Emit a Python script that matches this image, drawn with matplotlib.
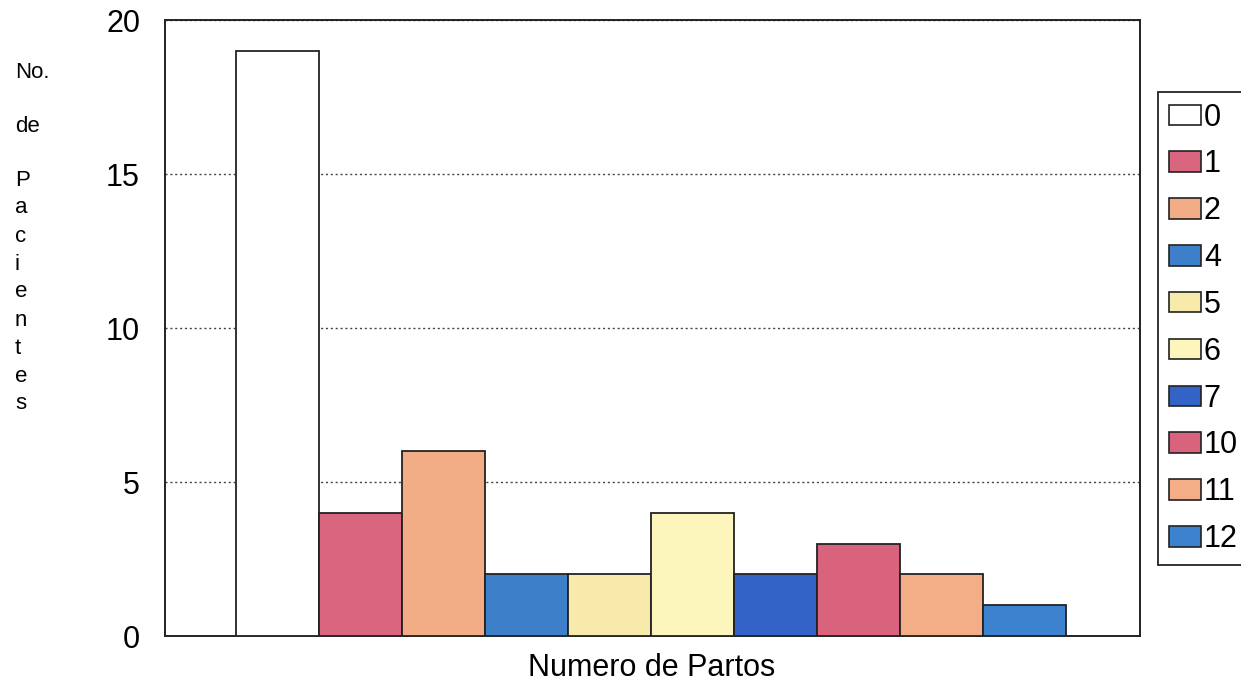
import numpy as np
import matplotlib.pyplot as plt
from matplotlib.patches import Patch

plt.rcParams['font.family'] = ['Liberation Sans', 'DejaVu Sans']

# Numero de partos y numero de pacientes
partos = ['0', '1', '2', '4', '5', '6', '7', '10', '11', '12']
pacientes = [19, 4, 6, 2, 2, 4, 2, 3, 2, 1]
colores = ['#ffffff', '#d9657e', '#f2ac86', '#3d7fc9', '#f8eaab',
           '#fcf6bc', '#3363c6', '#d9627d', '#f3ad87', '#3c82cf']

W, H = 1241, 689
fig = plt.figure(figsize=(W / 100, H / 100), dpi=100)
ax = fig.add_axes([165 / W, 1 - 636 / H, 975 / W, 616 / H])

x = np.arange(len(partos))
ax.bar(x, pacientes, width=1.0, color=colores, edgecolor='#222222',
       linewidth=1.3, zorder=3)

ax.set_ylim(0, 20)
ax.set_xlim(-1.36, 10.39)
ax.set_yticks([0, 5, 10, 15, 20])
ax.set_xticks([])
ax.tick_params(axis='y', length=0, labelsize=22, pad=18)
ax.yaxis.grid(True, linestyle=(0, (1.5, 2)), color='#444444', linewidth=1.0, zorder=0)
for s in ax.spines.values():
    s.set_linewidth(1.4)
    s.set_color('#222222')

fig.text(652 / W, 1 - 668 / H, 'Numero de Partos', fontsize=22,
         ha='center', va='center')

# etiqueta vertical del eje y, letra por letra
fig.text(15 / W, 1 - 72 / H, 'No.', fontsize=16, va='center', ha='left')
fig.text(15 / W, 1 - 127 / H, 'de', fontsize=16, va='center', ha='left')
for i, c in enumerate('Pacientes'):
    fig.text(15 / W, 1 - (180 + i * 28) / H, c, fontsize=16,
             va='center', ha='left')

handles = [Patch(facecolor=c, edgecolor='#222222', linewidth=1.2) for c in colores]
leg = fig.legend(handles, partos, loc='upper left',
                 bbox_to_anchor=(1158 / W, 1 - 92 / H),
                 fontsize=22, frameon=True, fancybox=False, framealpha=1,
                 handlelength=1.05, handleheight=0.66, handletextpad=0.1,
                 labelspacing=0.55, borderpad=0.35, borderaxespad=0)
leg.get_frame().set_edgecolor('#222222')
leg.get_frame().set_linewidth(1.3)

fig.savefig('out.png', dpi=100)
